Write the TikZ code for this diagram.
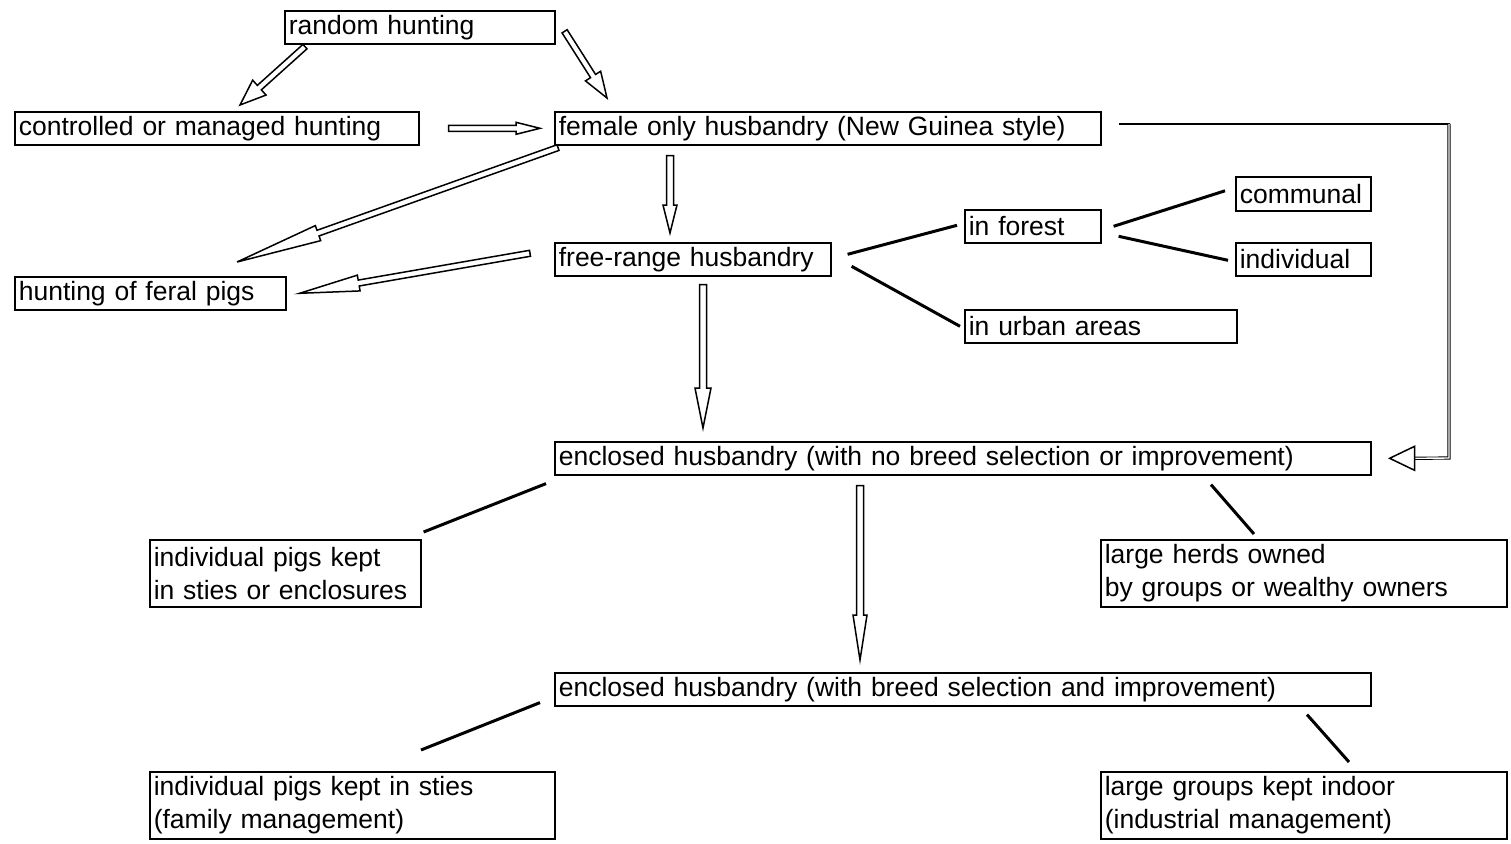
\documentclass[tikz,border=0pt]{standalone}
\usepackage{fontspec}
\setmainfont{Liberation Sans}
\usetikzlibrary{calc}
\newcommand{\harrow}[5]{%
  \path ($(#2)!#5!(#1)$) coordinate (hb);
  \draw[arr] ($(#1)!#3!90:(#2)$) -- ($(hb)!#3!-90:(#1)$) -- ($(hb)!#4!-90:(#1)$) -- (#2)
    -- ($(hb)!#4!90:(#1)$) -- ($(hb)!#3!90:(#1)$) -- ($(#1)!#3!-90:(#2)$) -- cycle;}
\tikzset{
  box/.style={draw, line width=1.6pt, anchor=north west, align=left, inner xsep=4pt, inner ysep=0pt,
    font=\fontsize{26.5}{33}\selectfont},
  arr/.style={line width=1.5pt, line join=miter, fill=white},
  link/.style={line width=3pt},
}
\begin{document}
\begin{tikzpicture}[x=1pt,y=-1pt]
\useasboundingbox (0,0) rectangle (1511,843);
% nodes
\node[box, text width=262pt, minimum height=33pt] (rh) at (284,10) {random hunting};
\node[box, text width=396pt, minimum height=33pt] (ch) at (14,111) {controlled or managed hunting};
\node[box, text width=538pt, minimum height=33pt] (fe) at (554,111) {female only husbandry (New Guinea style)};
\node[box, text width=263pt, minimum height=33pt] (hf) at (14,276) {hunting of feral pigs};
\node[box, text width=268pt, minimum height=33pt] (fr) at (554,242) {free-range husbandry};
\node[box, text width=128pt, minimum height=33pt] (fo) at (964,209) {in forest};
\node[box, text width=127pt, minimum height=34pt] (co) at (1235,176) {communal};
\node[box, text width=127pt, minimum height=33pt] (in) at (1235,242) {individual};
\node[box, text width=264pt, minimum height=33pt] (ur) at (964,309) {in urban areas};
\node[box, text width=808pt, minimum height=33pt] (e1) at (554,441) {enclosed husbandry (with no breed selection or improvement)};
\node[box, text width=263pt, minimum height=67pt] (ip) at (149,539) {individual pigs kept\\in sties or enclosures};
\node[box, text width=398pt, minimum height=67pt] (lh) at (1100,539) {large herds owned\\by groups or wealthy owners};
\node[box, text width=808pt, minimum height=33pt] (e2) at (554,672) {enclosed husbandry (with breed selection and improvement)};
\node[box, text width=397pt, minimum height=67pt] (is) at (149,771) {individual pigs kept in sties\\(family management)};
\node[box, text width=398pt, minimum height=67pt] (lg) at (1100,771) {large groups kept indoor\\(industrial management)};
% hollow arrows
\coordinate (a1s) at ($(rh.south west)+(21,2)$);
\coordinate (a1e) at ($(ch.north west)+(226,-6)$);
\harrow{a1s}{a1e}{3pt}{10pt}{26pt}
\coordinate (a2s) at ($(rh.east)+(9,4)$);
\coordinate (a2e) at ($(fe.north west)+(53,-13)$);
\harrow{a2s}{a2e}{3pt}{9pt}{26pt}
\coordinate (a3s) at ($(ch.east)+(29,0)$);
\coordinate (a3e) at ($(fe.west)+(-14,0)$);
\harrow{a3s}{a3e}{3pt}{6pt}{24pt}
\coordinate (a4s) at ($(fe.south west)+(4,2)$);
\coordinate (a4e) at ($(hf.north west)+(223,-14)$);
\harrow{a4s}{a4e}{3pt}{8pt}{86pt}
\coordinate (a5s) at ($(fr.west)+(-24,-6)$);
\coordinate (a5e) at ($(hf.east)+(13,0)$);
\harrow{a5s}{a5e}{3pt}{8pt}{60pt}
\coordinate (a6s) at ($(fe.south west)+(116,10)$);
\coordinate (a6e) at ($(fr.north west)+(116,-9)$);
\harrow{a6s}{a6e}{3.5pt}{7pt}{28pt}
\coordinate (a7s) at ($(fr.south west)+(149,8)$);
\coordinate (a7e) at ($(e1.north west)+(149,-13)$);
\harrow{a7s}{a7e}{3.5pt}{8pt}{40pt}
\coordinate (a8s) at ($(e1.south west)+(306,10)$);
\coordinate (a8e) at ($(e2.north west)+(306,-12)$);
\harrow{a8s}{a8e}{3.5pt}{7pt}{45pt}
% right feedback connector
\coordinate (r1) at ($(fe.east)+(17,-4.5)$);
\coordinate (r2) at (r1 -| 1449,0);
\coordinate (r3) at (1449,458);
\coordinate (rt) at ($(e1.east)+(18,0)$);
\draw[line width=2.5pt] (r1) -- ($(r2)+(1,0)$);
\draw[line width=0.9pt, double, double distance=1.4pt] (r2) -- (r3) -- ($(rt)+(25,0)$);
\draw[line width=1.5pt, fill=white] (rt) -- ($(rt)+(25,-12)$) -- ($(rt)+(25,12)$) -- cycle;
% plain links
\draw[link] ($(fr.east)+(16,-5)$) -- ($(fo.west)+(-7,-1)$);
\draw[link] ($(fr.east)+(20,7)$) -- ($(ur.west)+(-4,0)$);
\draw[link] ($(fo.east)+(12,0)$) -- ($(co.west)+(-10,-3)$);
\draw[link] ($(fo.east)+(17,10)$) -- ($(in.west)+(-7,1)$);
\draw[link] ($(e1.south west)+(-8,8)$) -- ($(ip.north east)+(2,-7)$);
\draw[link] ($(e1.south west)+(657,9)$) -- ($(lh.north west)+(154,-5)$);
\draw[link] ($(e2.south west)+(-14,-4)$) -- ($(is.north west)+(272,-21)$);
\draw[link] ($(e2.south west)+(753,8)$) -- ($(lg.north west)+(249,-9)$);
\end{tikzpicture}
\end{document}
